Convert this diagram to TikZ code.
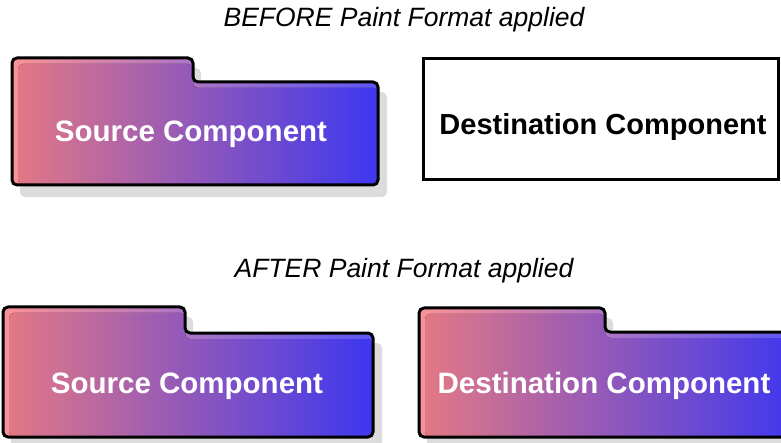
\documentclass[tikz,border=0pt]{standalone}
\usepackage{fontspec}
\setmainfont{Liberation Sans}
\definecolor{gradL}{RGB}{226,120,134}
\definecolor{gradR}{RGB}{60,55,240}
\definecolor{hiL}{RGB}{250,146,150}
\definecolor{hiR}{RGB}{92,86,246}
\definecolor{shade}{RGB}{220,220,220}
\tikzset{
  title/.style={font=\fontsize{26.5}{30}\selectfont\itshape, text=black},
  comptext/.style={font=\fontsize{29.5}{33}\selectfont\bfseries, text=white},
  plaintext/.style={font=\fontsize{29}{33}\selectfont\bfseries, text=black},
  border/.style={draw=black, line width=3pt, rounded corners=5pt, line join=round},
  shadowfill/.style={fill=shade, rounded corners=5pt},
  hifill/.style={left color=hiL, right color=hiR, rounded corners=5pt},
  mainfill/.style={left color=gradL, right color=gradR, rounded corners=5pt},
}
% folder shape: #1 left, #2 top, #3 tab x, #4 step y, #5 right, #6 bottom
\newcommand{\folderpath}[6]{(#1,#2) -- (#3,#2) -- (#3,#4) -- (#5,#4) -- (#5,#6) -- (#1,#6) -- cycle}
\newcommand{\folder}[6]{%
  \fill[shadowfill] \folderpath{#1+8}{#2+10}{#3+8}{#4+10}{#5+9}{#6+12};
  \begin{scope}
    \clip[rounded corners=5pt] \folderpath{#1}{#2}{#3}{#4}{#5}{#6};
    \fill[hifill] \folderpath{#1}{#2}{#3}{#4}{#5}{#6};
    \fill[mainfill] \folderpath{#1+6}{#2+6}{#3}{#4+6}{#5}{#6};
  \end{scope}
  \draw[border] \folderpath{#1}{#2}{#3}{#4}{#5}{#6};
}
\begin{document}
\begin{tikzpicture}[x=1pt,y=-1pt]
\useasboundingbox (0,0) rectangle (781,443);
\node[title] (t1) at (404,20) {BEFORE Paint Format applied};
\node[title] (t2) at (404,271) {AFTER Paint Format applied};
% top source
\folder{12}{58}{193}{82}{378}{185}
\node[comptext] (src1) at (191,134) {Source Component};
% top destination
\node[draw=black, line width=3pt, minimum width=355pt, minimum height=121pt, inner sep=0pt] (dst1) at (601,119) {};
\node[plaintext] (dst1t) at (603,127) {Destination Component};
% bottom source
\folder{3}{307}{185}{333}{373}{437}
\node[comptext] (src2) at (187,386) {Source Component};
% bottom destination
\folder{419}{308}{605}{332}{800}{437}
\node[comptext] (dst2) at (604,386) {Destination Component};
\end{tikzpicture}
\end{document}
